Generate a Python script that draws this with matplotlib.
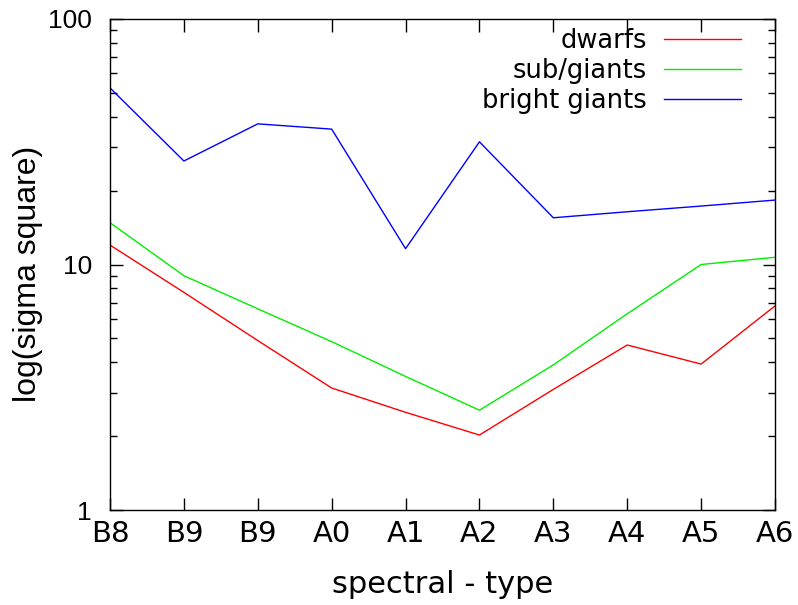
import numpy as np
import matplotlib.pyplot as plt
from matplotlib.ticker import LogLocator, NullFormatter, FixedLocator

# spectral types (B9 appears twice in the original)
types = ['B8', 'B9', 'B9', 'A0', 'A1', 'A2', 'A3', 'A4', 'A5', 'A6']
dwarfs = [12.0, 7.7, 4.9, 3.14, 2.5, 2.02, 3.1, 4.7, 3.93, 6.78]
subgiants = [14.8, 9.0, 6.6, 4.85, 3.5, 2.55, 3.9, 6.3, 10.0, 10.7]
bright = [52.4, 26.4, 37.4, 35.6, 11.6, 31.6, 15.5, 16.4, 17.3, 18.3]

x = np.arange(len(types))

fig = plt.figure(figsize=(7.98, 6.05), dpi=100)
ax = fig.add_axes([110/798, 1 - 510/605, 665/798, 491/605])

ax.plot(x, dwarfs, color='#ff0000', lw=1, label='dwarfs')
ax.plot(x, subgiants, color='#00ee00', lw=1, label='sub/giants')
ax.plot(x, bright, color='#0000ff', lw=1, label='bright giants')

ax.set_yscale('log')
ax.set_ylim(1, 100)
ax.set_xlim(0, len(types) - 1)
ax.set_xticks(x)
ax.set_xticklabels(types, family='DejaVu Sans', fontsize=21)
ax.yaxis.set_major_locator(FixedLocator([1, 10, 100]))
ax.set_yticklabels(['1', '10', '100'], family='Liberation Sans', fontsize=19)
ax.yaxis.set_minor_locator(LogLocator(base=10, subs=np.arange(2, 10)))
ax.yaxis.set_minor_formatter(NullFormatter())

ax.tick_params(axis='both', which='major', direction='in', length=9, width=1,
               top=True, right=True)
ax.tick_params(axis='x', which='major', pad=7)
ax.tick_params(axis='y', which='major', pad=13)
ax.tick_params(axis='y', which='minor', direction='in', length=5, width=1,
               right=True)
for s in ax.spines.values():
    s.set_linewidth(1)

ax.set_xlabel('spectral - type', family='DejaVu Sans', fontsize=22, labelpad=16)
ax.set_ylabel('log(sigma square)', family='Liberation Sans', fontsize=23)
ax.yaxis.set_label_coords(-0.10, 0.48)

leg = ax.legend(loc='upper right', frameon=False, markerfirst=False,
                prop={'family': 'DejaVu Sans', 'size': 18.5},
                handlelength=3.0, handletextpad=0.66, labelspacing=0.15,
                borderaxespad=0, borderpad=0,
                bbox_to_anchor=((741 - 110) / 665, (510 - 28) / 491))

fig.savefig('out.png', dpi=100)
